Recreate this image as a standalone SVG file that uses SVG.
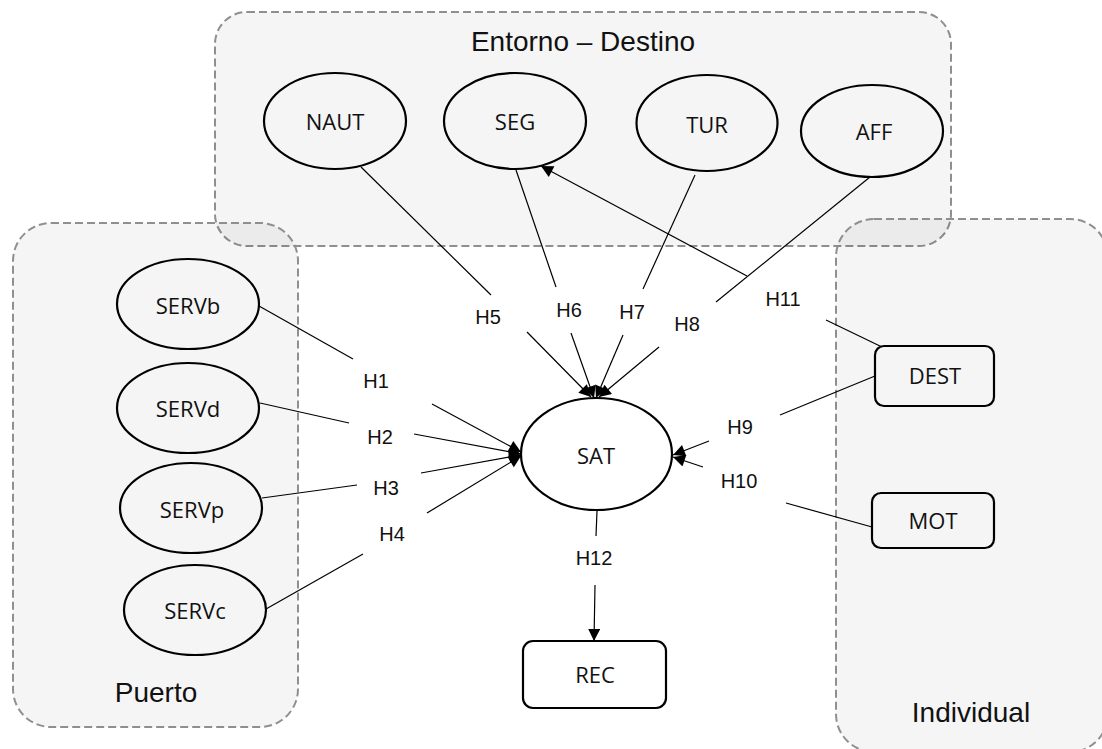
<svg xmlns="http://www.w3.org/2000/svg" width="1102" height="749" viewBox="0 0 1102 749">
<defs>
<style>
.grp{fill:#000;fill-opacity:0.04;stroke:#8f8f8f;stroke-width:2;stroke-dasharray:8,4}
.gt{font-family:"Liberation Sans",Arial,sans-serif;font-size:28px;fill:#111;text-anchor:middle}
.nd{fill:none;stroke:#000;stroke-width:2.2}
.ndw{fill:#fff;stroke:#000;stroke-width:2.2}
.nt{font-family:"Open Sans","Noto Sans",sans-serif;font-size:22px;fill:#111;text-anchor:middle}
.ln{stroke:#000;stroke-width:1.2;fill:none}
.el{font-family:"Liberation Sans",Arial,sans-serif;font-size:20px;fill:#111;text-anchor:middle}
</style>
<marker id="arr" viewBox="0 0 10 10" refX="10" refY="5" markerWidth="14" markerHeight="12" markerUnits="userSpaceOnUse" orient="auto"><path d="M0,0 L10,5 L0,10 z" fill="#000"/></marker>
</defs>
<rect width="1102" height="749" fill="#fff"/>
<g id="groups">
<g id="grp-entorno"><rect class="grp" x="215" y="12" width="736" height="234" rx="32"/><text class="gt" x="583" y="51">Entorno – Destino</text></g>
<g id="grp-puerto"><rect class="grp" x="13" y="223" width="285" height="504" rx="38"/><text class="gt" x="156" y="702">Puerto</text></g>
<g id="grp-individual"><rect class="grp" x="836" y="219" width="272" height="533" rx="38"/><text class="gt" x="971" y="722">Individual</text></g>
</g>
<g id="connectors">
<line class="ln" x1="361" y1="167" x2="491" y2="295"/><line class="ln" x1="527" y1="332" x2="591" y2="397" marker-end="url(#arr)"/>
<line class="ln" x1="516" y1="170" x2="556" y2="287"/><line class="ln" x1="571" y1="333" x2="594" y2="398" marker-end="url(#arr)"/>
<line class="ln" x1="695" y1="175" x2="643" y2="289"/><line class="ln" x1="623" y1="335" x2="596" y2="398" marker-end="url(#arr)"/>
<line class="ln" x1="870" y1="177" x2="716" y2="302"/><line class="ln" x1="659" y1="347" x2="599" y2="397" marker-end="url(#arr)"/>
<line class="ln" x1="882" y1="347" x2="826" y2="320"/><line class="ln" x1="747" y1="276" x2="541" y2="166" marker-end="url(#arr)"/>
<line class="ln" x1="259" y1="306" x2="353" y2="359"/><line class="ln" x1="432" y1="404" x2="521" y2="452" marker-end="url(#arr)"/>
<line class="ln" x1="260" y1="403" x2="349" y2="423"/><line class="ln" x1="414" y1="434" x2="521" y2="454" marker-end="url(#arr)"/>
<line class="ln" x1="262" y1="498" x2="357" y2="485"/><line class="ln" x1="421" y1="473" x2="521" y2="455" marker-end="url(#arr)"/>
<line class="ln" x1="266" y1="609" x2="363" y2="554"/><line class="ln" x1="427" y1="513" x2="521" y2="456" marker-end="url(#arr)"/>
<line class="ln" x1="875" y1="376" x2="780" y2="415"/><line class="ln" x1="709" y1="441" x2="673" y2="455" marker-end="url(#arr)"/>
<line class="ln" x1="872" y1="527" x2="786" y2="503"/><line class="ln" x1="703" y1="467" x2="673" y2="457" marker-end="url(#arr)"/>
<line class="ln" x1="597" y1="511" x2="596" y2="536"/><line class="ln" x1="595" y1="585" x2="594" y2="641" marker-end="url(#arr)"/>
<text class="el" x="488" y="324">H5</text>
<text class="el" x="569" y="317">H6</text>
<text class="el" x="632" y="319">H7</text>
<text class="el" x="687" y="331">H8</text>
<text class="el" x="783" y="306">H11</text>
<text class="el" x="376" y="388">H1</text>
<text class="el" x="380" y="444">H2</text>
<text class="el" x="386" y="495">H3</text>
<text class="el" x="392" y="541">H4</text>
<text class="el" x="740" y="434">H9</text>
<text class="el" x="739" y="488">H10</text>
<text class="el" x="594" y="565">H12</text>
</g>
<g id="NAUT"><ellipse class="nd" cx="335" cy="121" rx="71" ry="48"/><text class="nt" x="335" y="130">NAUT</text></g>
<g id="SEG"><ellipse class="nd" cx="515" cy="121" rx="71" ry="48"/><text class="nt" x="515" y="130">SEG</text></g>
<g id="TUR"><ellipse class="nd" cx="707" cy="123" rx="70.5" ry="48"/><text class="nt" x="707" y="133">TUR</text></g>
<g id="AFF"><ellipse class="nd" cx="872" cy="131" rx="71" ry="46"/><text class="nt" x="874" y="140">AFF</text></g>
<g id="SERVb"><ellipse class="nd" cx="188" cy="304" rx="71" ry="45"/><text class="nt" x="188" y="314">SERVb</text></g>
<g id="SERVd"><ellipse class="nd" cx="188" cy="408" rx="71" ry="45"/><text class="nt" x="188" y="417">SERVd</text></g>
<g id="SERVp"><ellipse class="nd" cx="191" cy="508" rx="71" ry="45"/><text class="nt" x="192" y="518">SERVp</text></g>
<g id="SERVc"><ellipse class="nd" cx="195" cy="610" rx="71" ry="45"/><text class="nt" x="195" y="619">SERVc</text></g>
<g id="SAT"><ellipse class="ndw" cx="596.5" cy="454" rx="75.5" ry="56"/><text class="nt" x="596" y="464">SAT</text></g>
<g id="DEST"><rect class="nd" x="875" y="346" width="119" height="60" rx="9"/><text class="nt" x="935" y="384">DEST</text></g>
<g id="MOT"><rect class="nd" x="872" y="493" width="122" height="55" rx="9"/><text class="nt" x="933" y="529">MOT</text></g>
<g id="REC"><rect class="ndw" x="523" y="641" width="143" height="67" rx="10"/><text class="nt" x="595" y="683">REC</text></g>
</svg>
